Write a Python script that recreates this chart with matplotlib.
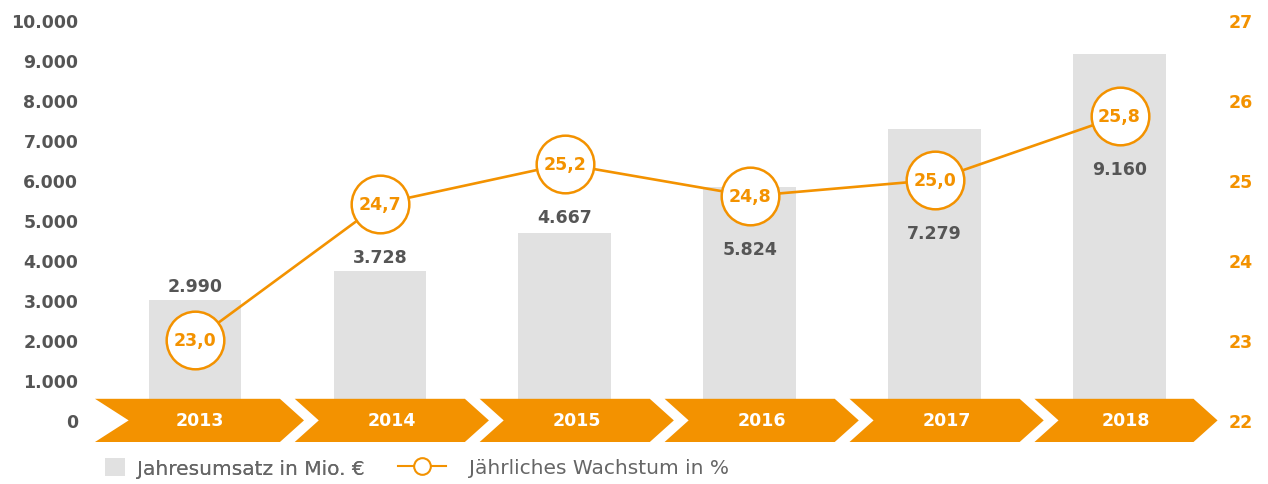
import matplotlib.pyplot as plt
from matplotlib.patches import Polygon
from matplotlib.lines import Line2D
from matplotlib.patches import Rectangle

years = ['2013', '2014', '2015', '2016', '2017', '2018']
umsatz = [2990, 3728, 4667, 5824, 7279, 9160]
wachstum = [23.0, 24.7, 25.2, 24.8, 25.0, 25.8]
left_ticks = [0, 1000, 2000, 3000, 4000, 5000, 6000, 7000, 8000, 9000, 10000]
right_ticks = [22, 23, 24, 25, 26, 27]

orange = '#F39200'
grey_bar = '#E1E1E1'
dark = '#555555'

plt.rcParams['font.family'] = ['DejaVu Sans']

fig = plt.figure(figsize=(12.68, 4.85), dpi=100)
ax = fig.add_axes([95 / 1268, 42 / 485, (1212 - 95) / 1268, 422 / 485])
ax2 = ax.twinx()

x = list(range(len(years)))
ax.bar(x, umsatz, width=0.5, color=grey_bar, zorder=1)

xmin, xmax = -0.54, 5.50
ax.set_xlim(xmin, xmax)
ax.set_ylim(-550, 10000)
ax2.set_ylim(21.725, 27)

# chevron band with the years
d = 0.13
s = 0.08
edges = [xmin] + [i + 0.5 for i in range(len(years) - 1)] + [5.40]
for i, yr in enumerate(years):
    l = edges[i] + (s / 2 if i > 0 else 0)
    r = edges[i + 1] - (s / 2 if i < len(years) - 1 else 0)
    dl = d * 1.4 if i == 0 else d
    top, bot, mid = 530, -550, -10
    poly = Polygon([(l, top), (r, top), (r + d, mid), (r, bot), (l, bot), (l + dl, mid)],
                   closed=True, facecolor=orange, edgecolor='none', zorder=2, clip_on=False)
    ax.add_patch(poly)
    ax.text((l + r + d) / 2, -10, yr, ha='center', va='center', color='white',
            fontsize=12.5, fontweight='bold', zorder=3)

# growth line with circles
ax2.plot(x, wachstum, color=orange, lw=1.9, zorder=4, marker='o', markersize=41.5,
         markerfacecolor='white', markeredgecolor=orange, markeredgewidth=1.8)
for xi, w in zip(x, wachstum):
    ax2.text(xi, w, f'{w:.1f}'.replace('.', ','), ha='center', va='center',
             color=orange, fontsize=12.5, fontweight='bold', zorder=5)

# revenue labels
for xi, (u, w) in enumerate(zip(umsatz, wachstum)):
    lab = f'{u:,}'.replace(',', '.')
    if xi == 0:
        ax.annotate(lab, (xi, u), xytext=(0, 4), textcoords='offset points',
                    ha='center', va='bottom', color=dark, fontsize=12.5, fontweight='bold')
    else:
        ax2.annotate(lab, (xi, w), xytext=(0, -38), textcoords='offset points',
                     ha='center', va='center', color=dark, fontsize=12.5, fontweight='bold')

ax.set_yticks(left_ticks)
ax.set_yticklabels([f'{t:,}'.replace(',', '.') for t in left_ticks])
ax2.set_yticks(right_ticks)
ax.set_xticks([])
ax.tick_params(axis='y', length=0, pad=12, labelsize=12.5, labelcolor=dark)
ax2.tick_params(axis='y', length=0, pad=12, labelsize=12.5, labelcolor=orange)
for t in ax.get_yticklabels():
    t.set_fontweight('bold')
for t in ax2.get_yticklabels():
    t.set_fontweight('bold')
for a in (ax, ax2):
    for sp in a.spines.values():
        sp.set_visible(False)
ax2.set_zorder(ax.get_zorder() + 1)
ax2.patch.set_visible(False)

# legend, two parts so the square and the line handle get their own sizes
leg1 = fig.legend([Rectangle((0, 0), 1, 1, facecolor=grey_bar, edgecolor='none')],
                  ['Jahresumsatz in Mio. €'], loc='center left',
                  bbox_to_anchor=(97 / 1268, 1 - 469 / 485), frameon=False,
                  fontsize=14.5, labelcolor='#666666', handlelength=1.0, handleheight=1.0,
                  handletextpad=0.6, borderaxespad=0)
fig.add_artist(leg1)
fig.legend([Line2D([], [], color=orange, lw=1.5, marker='o', markersize=12,
                   markerfacecolor='white', markeredgecolor=orange, markeredgewidth=1.5)],
           ['Jährliches Wachstum in %'], loc='center left',
           bbox_to_anchor=(390 / 1268, 1 - 469 / 485), frameon=False,
           fontsize=14.5, labelcolor='#666666', handlelength=2.4,
           handletextpad=1.1, borderaxespad=0)

fig.savefig('out.png', dpi=100)
